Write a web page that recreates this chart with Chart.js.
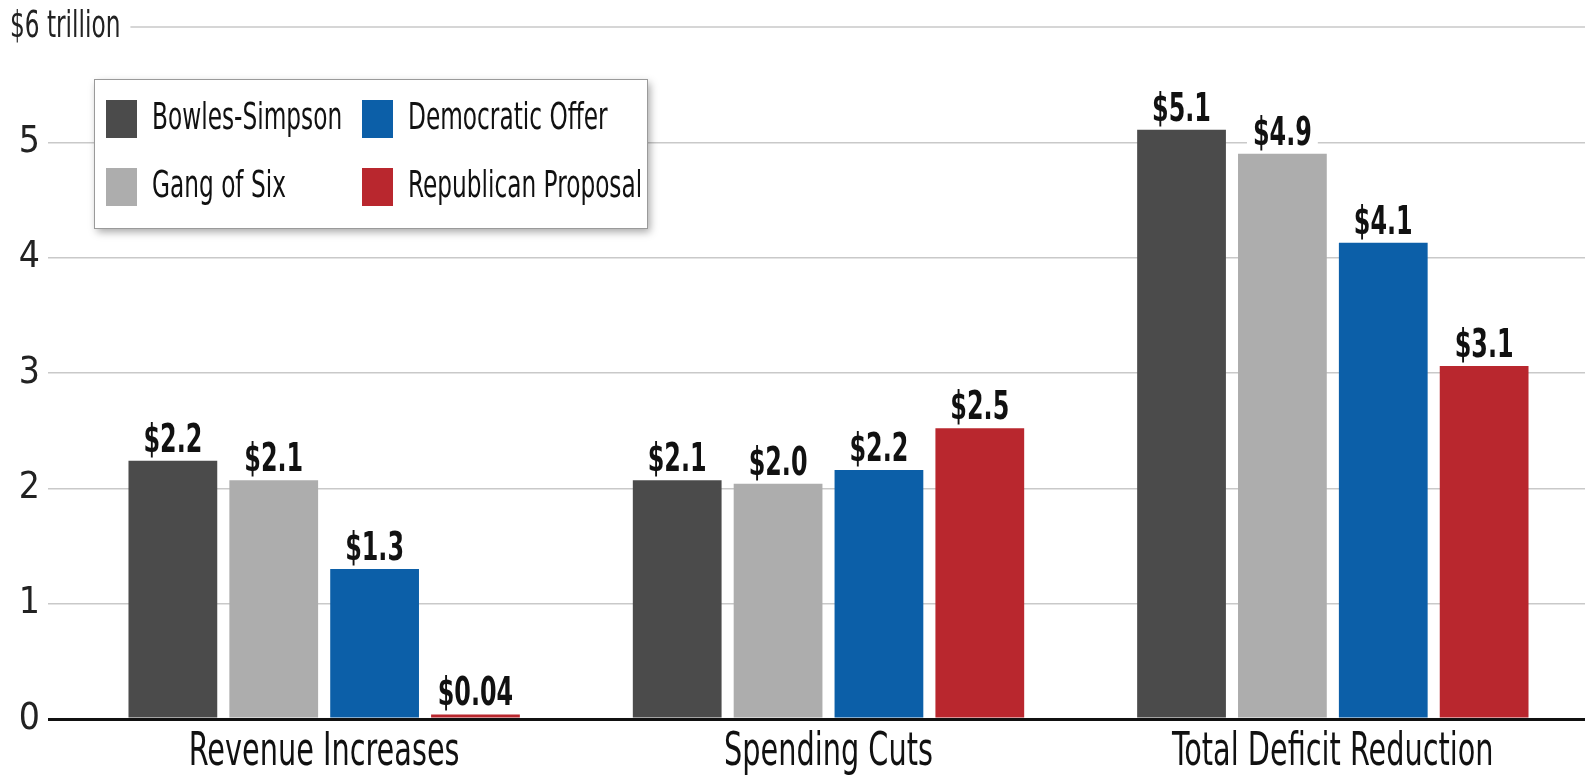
<!DOCTYPE html>
<html>
<head>
<meta charset="utf-8">
<script src="https://cdn.jsdelivr.net/npm/chart.js@4"></script>
<style>
  html, body { margin: 0; padding: 0; background: #fff; }
  #wrap { width: 1585px; height: 780px; position: relative; }
</style>
</head>
<body>
<div id="wrap"><canvas id="chart"></canvas></div>
<script>
const FONT = '"Liberation Sans Narrow", "DejaVu Sans Condensed", "Arial Narrow", sans-serif';
const SQUEEZE = 0.68; // the original face is much narrower than anything installed

// data
const categories = ['Revenue Increases', 'Spending Cuts', 'Total Deficit Reduction'];
const seriesNames = ['Bowles-Simpson', 'Gang of Six', 'Democratic Offer', 'Republican Proposal'];
const seriesColors = ['#4b4b4b', '#adadad', '#0c5fa8', '#b9272e'];
const bowlesSimpson = [2.24, 2.07, 5.11];
const gangOfSix = [2.07, 2.04, 4.90];
const democraticOffer = [1.30, 2.16, 4.13];
const republicanProposal = [0.04, 2.52, 3.06];
const bowlesSimpsonLabels = ['$2.2', '$2.1', '$5.1'];
const gangOfSixLabels = ['$2.1', '$2.0', '$4.9'];
const democraticOfferLabels = ['$1.3', '$2.2', '$4.1'];
const republicanProposalLabels = ['$0.04', '$2.5', '$3.1'];
const yMax = 6;
const yTopLabel = '$6 trillion';

const seriesValues = [bowlesSimpson, gangOfSix, democraticOffer, republicanProposal];
const seriesLabels = [bowlesSimpsonLabels, gangOfSixLabels, democraticOfferLabels, republicanProposalLabels];

// draws text squeezed horizontally around its anchor
function squeezedText(ctx, txt, x, y, align) {
  ctx.save();
  ctx.translate(x, y);
  ctx.scale(SQUEEZE, 1);
  ctx.textAlign = align;
  ctx.fillText(txt, 0, 0);
  ctx.restore();
  return ctx.measureText(txt).width * SQUEEZE;
}

// value labels above bars, with a white patch so gridlines break behind them
const valueLabelPlugin = {
  id: 'valueLabels',
  afterDatasetsDraw(chart) {
    const ctx = chart.ctx;
    ctx.save();
    ctx.font = 'bold 39px ' + FONT;
    ctx.textBaseline = 'alphabetic';
    chart.data.datasets.forEach((ds, i) => {
      chart.getDatasetMeta(i).data.forEach((bar, j) => {
        const txt = seriesLabels[i][j];
        const w = ctx.measureText(txt).width * SQUEEZE;
        const base = bar.y - 9;
        ctx.fillStyle = '#fff';
        ctx.fillRect(bar.x - w / 2 - 6, base - 31, w + 12, 34);
        ctx.fillStyle = '#111';
        squeezedText(ctx, txt, bar.x, base, 'center');
      });
    });
    ctx.restore();
  }
};

// "$6 trillion" label with its gridline, and the category names
const axisTextPlugin = {
  id: 'axisText',
  beforeDatasetsDraw(chart) {
    const ctx = chart.ctx;
    const y = chart.scales.y.getPixelForValue(yMax);
    ctx.save();
    ctx.font = '38px ' + FONT;
    ctx.fillStyle = '#222';
    ctx.textBaseline = 'middle';
    const w = squeezedText(ctx, yTopLabel, 10, y, 'left');
    ctx.strokeStyle = '#c9c9c9';
    ctx.lineWidth = 1.5;
    ctx.beginPath();
    ctx.moveTo(10 + w + 10, y);
    ctx.lineTo(chart.chartArea.right, y);
    ctx.stroke();

    const xs = chart.scales.x;
    ctx.font = '47px ' + FONT;
    ctx.fillStyle = '#111';
    categories.forEach((c, i) => {
      squeezedText(ctx, c, xs.getPixelForTick(i), chart.chartArea.bottom + 34, 'center');
    });
    ctx.restore();
  }
};

// two-column legend box
const legendPlugin = {
  id: 'boxLegend',
  afterDraw(chart) {
    const ctx = chart.ctx;
    const bx = 94, by = 79, bw = 553, bh = 149;
    ctx.save();
    ctx.shadowColor = 'rgba(0,0,0,0.35)';
    ctx.shadowBlur = 8;
    ctx.shadowOffsetX = 3;
    ctx.shadowOffsetY = 4;
    ctx.fillStyle = '#fff';
    ctx.fillRect(bx, by, bw, bh);
    ctx.shadowColor = 'transparent';
    ctx.strokeStyle = '#9a9a9a';
    ctx.lineWidth = 1;
    ctx.strokeRect(bx + 0.5, by + 0.5, bw, bh);
    ctx.font = '38px ' + FONT;
    ctx.textBaseline = 'middle';
    const cols = [106, 362];
    const rows = [119, 187];
    chart.data.datasets.forEach((ds, i) => {
      const x = cols[Math.floor(i / 2)];
      const y = rows[i % 2];
      ctx.fillStyle = ds.backgroundColor;
      ctx.fillRect(x, y - 19, 31, 38);
      ctx.fillStyle = '#111';
      squeezedText(ctx, ds.label, x + 46, y, 'left');
    });
    ctx.restore();
  }
};

new Chart(document.getElementById('chart'), {
  type: 'bar',
  data: {
    labels: categories,
    datasets: seriesNames.map((name, i) => ({
      label: name,
      data: seriesValues[i],
      backgroundColor: seriesColors[i],
      borderWidth: 0,
      categoryPercentage: 0.8,
      barPercentage: 0.88
    }))
  },
  options: {
    responsive: true,
    maintainAspectRatio: false,
    animation: false,
    layout: { padding: { top: 27, left: 0, right: 0, bottom: 0 } },
    plugins: {
      legend: { display: false },
      tooltip: { enabled: false }
    },
    scales: {
      x: {
        grid: { display: false, drawTicks: false },
        border: { display: false },
        ticks: { display: false },
        afterFit(scale) { scale.height = 61; }
      },
      y: {
        min: 0,
        max: yMax,
        ticks: {
          stepSize: 1,
          font: { family: FONT, size: 37 },
          color: '#222',
          padding: 8,
          callback: v => (v === yMax ? '' : String(v))
        },
        grid: {
          color: c => (c.tick.value === 0 ? '#111' : (c.tick.value === yMax ? 'rgba(0,0,0,0)' : '#c9c9c9')),
          lineWidth: c => (c.tick.value === 0 ? 3 : 1.5),
          tickLength: 24
        },
        border: { display: false },
        afterFit(scale) {
          scale.width = 72;
          scale.paddingTop = 0;
          scale.paddingBottom = 0;
        }
      }
    }
  },
  plugins: [axisTextPlugin, valueLabelPlugin, legendPlugin]
});
</script>
</body>
</html>
